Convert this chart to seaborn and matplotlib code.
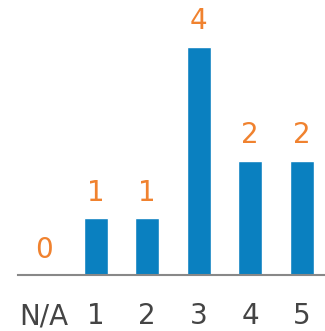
import matplotlib
matplotlib.use("Agg")
import matplotlib.pyplot as plt
import seaborn as sns
import pandas as pd

categories = ["N/A", "1", "2", "3", "4", "5"]
counts = [0, 1, 1, 4, 2, 2]

sns.set_theme(style="white")
plt.rcParams["font.family"] = ["DejaVu Sans"]

df = pd.DataFrame({"rating": categories, "count": counts})

fig = plt.figure(figsize=(3.25, 3.31), dpi=100)
ax = fig.add_axes([18 / 325, 56 / 331, 1 - 18 / 325, 1 - 56 / 331])

sns.barplot(data=df, x="rating", y="count", order=categories,
            color="#0a80c0", saturation=1, width=0.47, ax=ax)

for i, v in enumerate(counts):
    ax.text(i, v + 0.2, str(v), ha="center", va="bottom",
            fontsize=20, color="#f0822f")

ax.set_xlim(-0.51, 5.45)
ax.set_ylim(0, 4.82)
ax.set_xlabel("")
ax.set_ylabel("")
ax.set_yticks([])
for side in ["top", "right", "left"]:
    ax.spines[side].set_visible(False)
ax.spines["bottom"].set_color("#888888")
ax.spines["bottom"].set_linewidth(1.5)
ax.tick_params(axis="x", length=0, pad=19.5, labelsize=20, labelcolor="#444444")

fig.savefig("out.png", dpi=100)
